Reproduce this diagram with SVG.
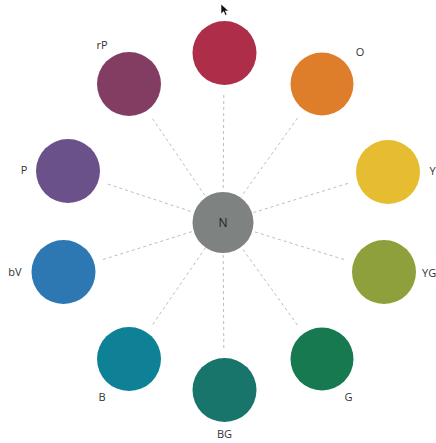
<svg xmlns="http://www.w3.org/2000/svg" width="436" height="443" viewBox="0 0 436 443">
<style>
.bg{fill:#ffffff}
.node{stroke:none}
.lbl{font-family:"Open Sans","Liberation Sans",sans-serif;font-size:11px;fill:#333333}
.mid{text-anchor:middle}
.conn line{stroke:#bdbdbd;stroke-width:1;stroke-dasharray:3 3;fill:none}
</style>
<rect class="bg" x="0" y="0" width="436" height="443"/>
<g id="connectors" class="conn">
<line x1="223.8" y1="95" x2="223.2" y2="191"/>
<line x1="297.5" y1="118.1" x2="241.1" y2="196.8"/>
<line x1="347.9" y1="183.4" x2="252.6" y2="212.8"/>
<line x1="343.9" y1="259.5" x2="252.6" y2="231.2"/>
<line x1="297.4" y1="324.9" x2="241.2" y2="247.1"/>
<line x1="223.8" y1="348" x2="223.2" y2="253"/>
<line x1="152.8" y1="324.4" x2="205.5" y2="247.6"/>
<line x1="103.1" y1="259.5" x2="193.4" y2="231.2"/>
<line x1="107.9" y1="184.1" x2="193.5" y2="212.3"/>
<line x1="152.6" y1="118.7" x2="205.5" y2="196.4"/>
</g>
<g id="node-R">
<circle class="node" cx="224.5" cy="53" r="32" fill="#AE2E4A"/>
<path d="M221 4 L221 14 L223.6 11.6 L225.4 15.4 L227 14.6 L225.3 10.9 L228.6 10.9 Z" fill="#111111" stroke="#ffffff" stroke-width="0.6"/>
</g>
<g id="node-O">
<circle class="node" cx="322" cy="84" r="31.5" fill="#DE7D2A"/>
<text class="lbl mid" x="360" y="56">O</text>
</g>
<g id="node-Y">
<circle class="node" cx="388" cy="172" r="32" fill="#E6BD31"/>
<text class="lbl" x="429.5" y="175">Y</text>
</g>
<g id="node-YG">
<circle class="node" cx="384" cy="272" r="32" fill="#8EA03C"/>
<text class="lbl" x="422" y="277">YG</text>
</g>
<g id="node-G">
<circle class="node" cx="322" cy="359" r="31.5" fill="#16794F"/>
<text class="lbl mid" x="348.5" y="401">G</text>
</g>
<g id="node-BG">
<circle class="node" cx="224.5" cy="390" r="32" fill="#17756B"/>
<text class="lbl mid" x="224.5" y="438">BG</text>
</g>
<g id="node-B">
<circle class="node" cx="129" cy="359" r="32" fill="#0E8197"/>
<text class="lbl mid" x="102" y="401">B</text>
</g>
<g id="node-bV">
<circle class="node" cx="63.5" cy="272" r="32" fill="#2D78B2"/>
<text class="lbl mid" x="15" y="276">bV</text>
</g>
<g id="node-P">
<circle class="node" cx="68" cy="171" r="32" fill="#6A5189"/>
<text class="lbl mid" x="24" y="174">P</text>
</g>
<g id="node-rP">
<circle class="node" cx="129" cy="84" r="32" fill="#833D63"/>
<text class="lbl mid" x="102" y="49">rP</text>
</g>
<g id="node-N">
<circle class="node" cx="223" cy="222.5" r="30.5" fill="#7E8280"/>
<text class="lbl mid" x="223" y="226.5" style="font-size:12px;fill:#222222">N</text>
</g>
</svg>
